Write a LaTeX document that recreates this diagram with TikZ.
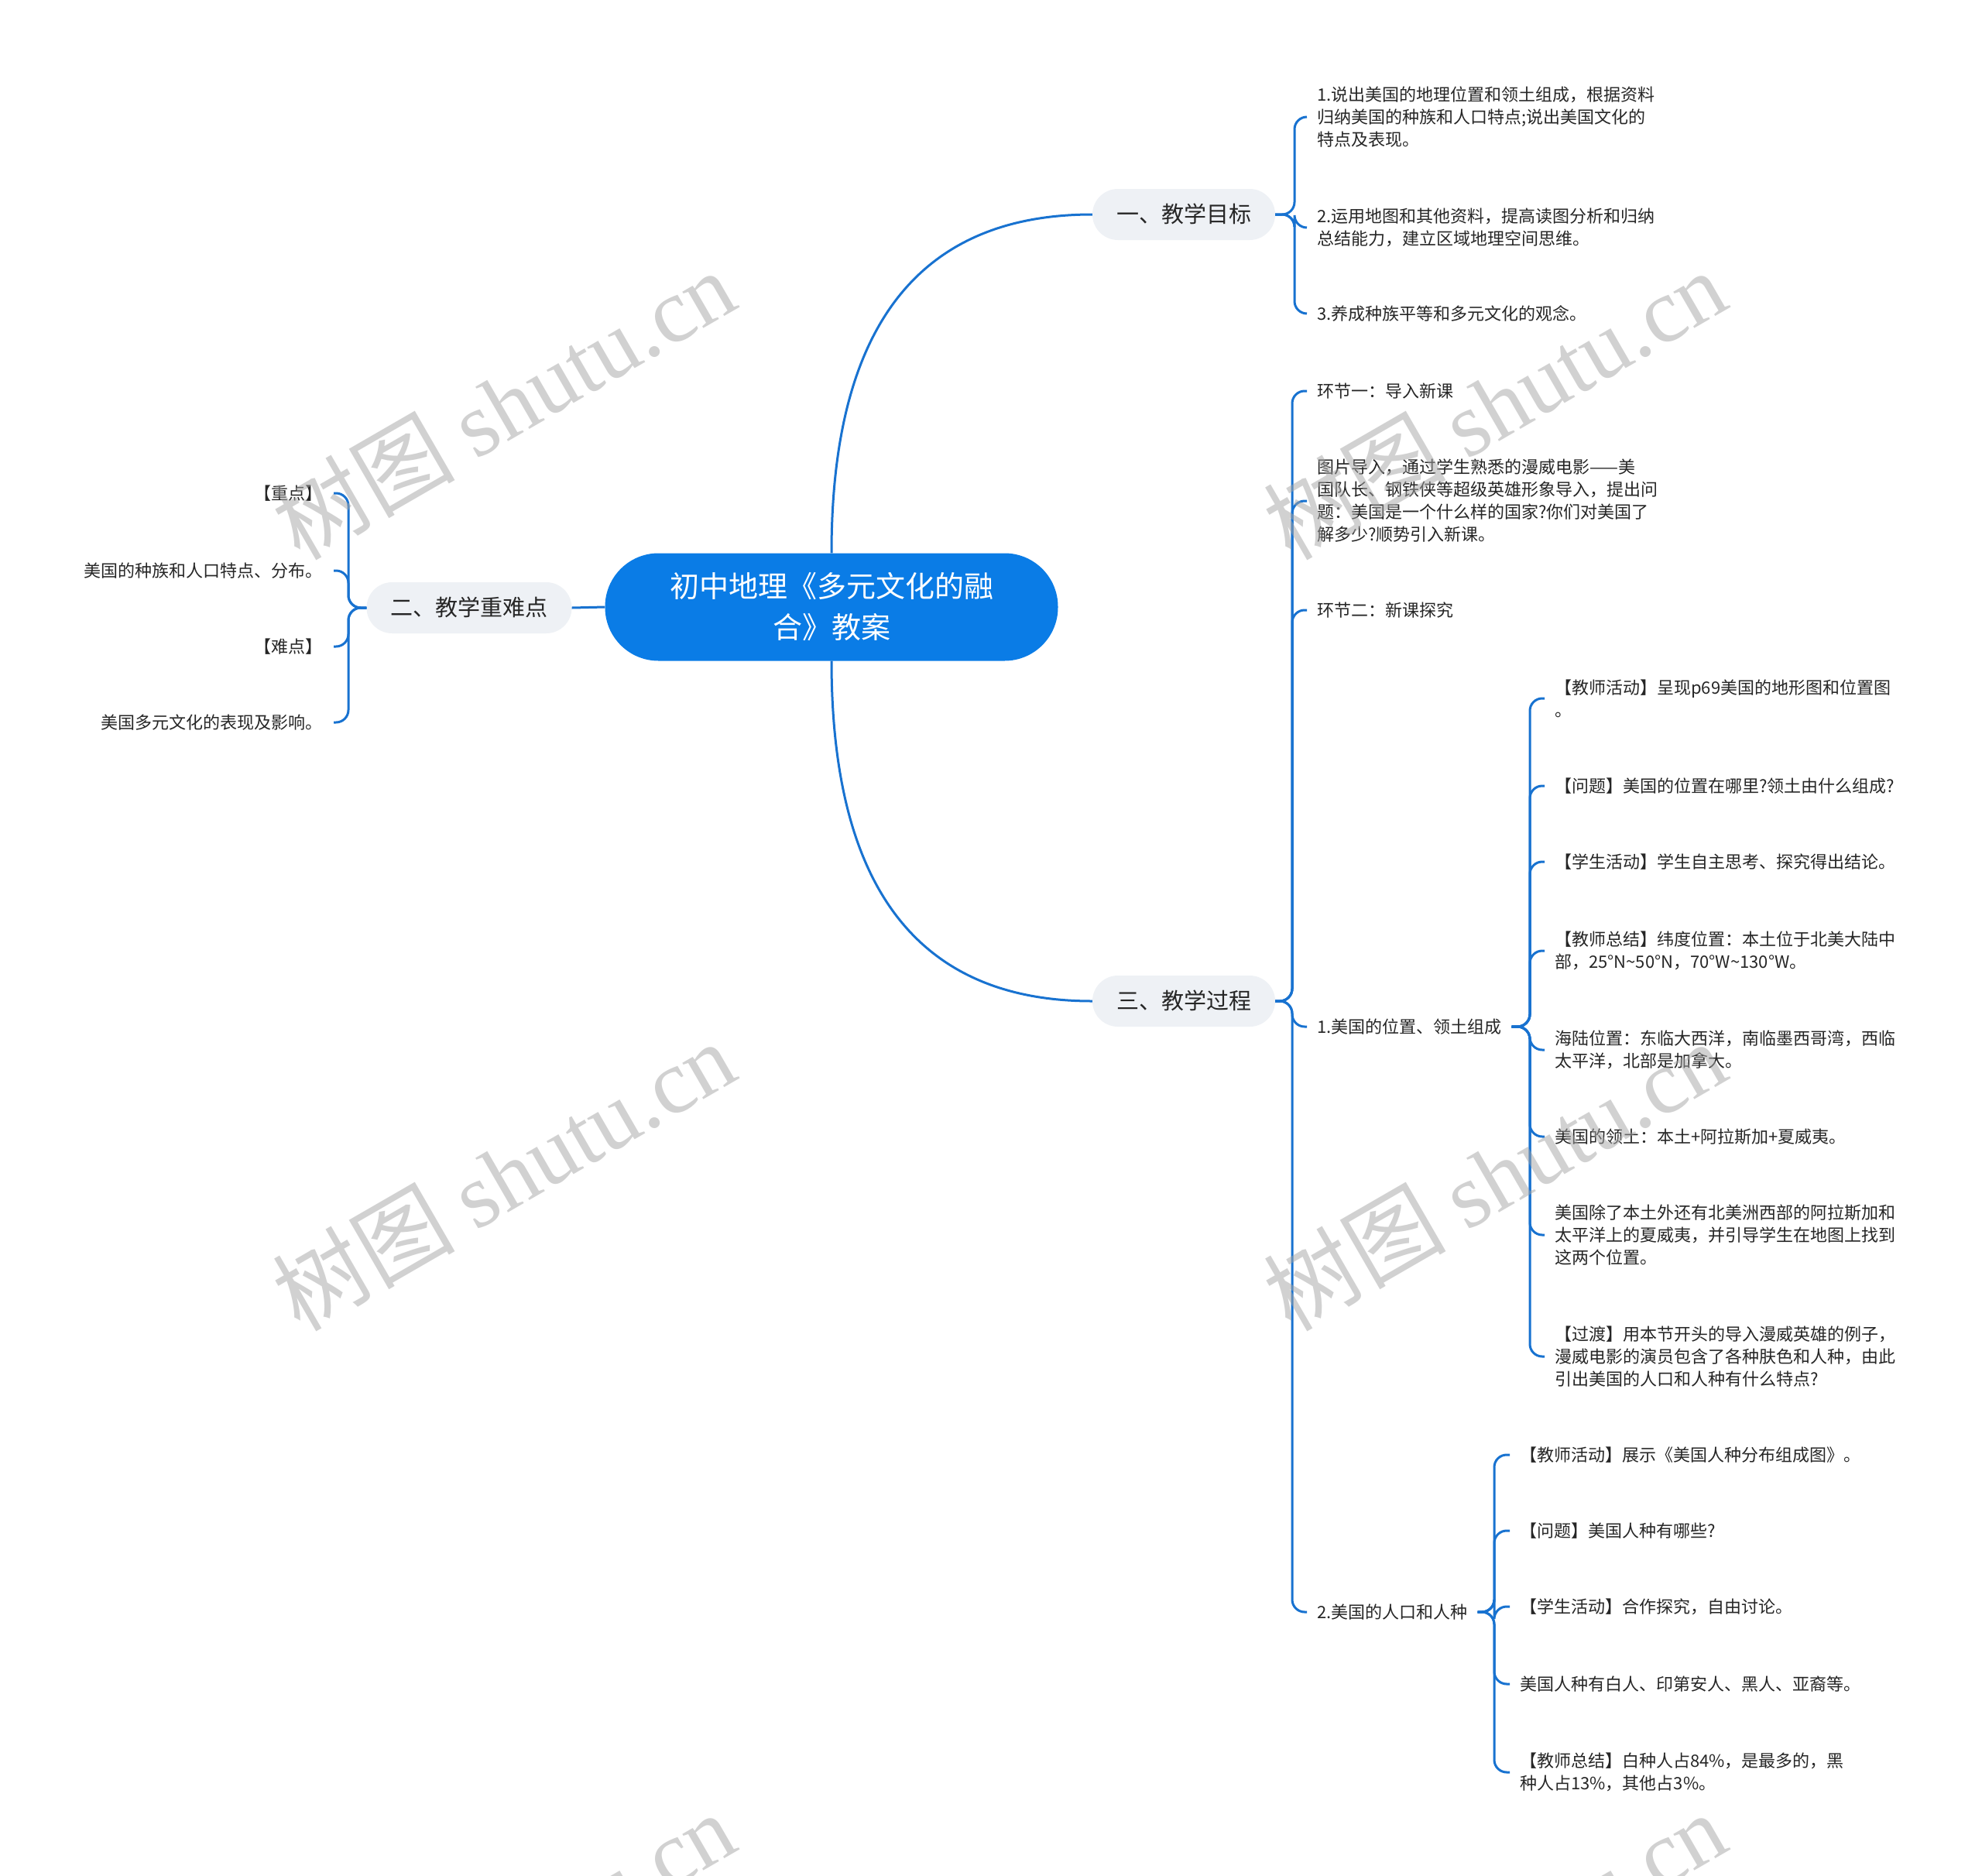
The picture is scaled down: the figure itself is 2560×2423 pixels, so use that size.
\documentclass[tikz,border=0pt]{standalone}
\usepackage{fontspec}
\setmainfont{Noto Sans CJK SC}
\newfontfamily\wmlatin{Liberation Serif}
\usetikzlibrary{calc}
\definecolor{rootblue}{HTML}{0A7CE6}
\definecolor{lineblue}{HTML}{1872D0}
\definecolor{pillgray}{HTML}{EEF1F5}
\definecolor{txt}{HTML}{262626}
\definecolor{wmgray}{HTML}{A4A4A4}
\begin{document}
\begin{tikzpicture}[x=1pt,y=-1pt,
  rootnode/.style={fill=rootblue, text=white, rounded corners=69pt, minimum width=585pt, minimum height=139pt, align=center, inner sep=0pt, font=\fontsize{38pt}{53pt}\selectfont},
  pill/.style={fill=pillgray, text=txt, rounded corners=33pt, minimum height=66pt, inner xsep=31pt, inner ysep=0pt, text height=25pt, text depth=4pt, font=\fontsize{29pt}{36pt}\selectfont},
  leafr/.style={anchor=west, text=txt, align=left, inner xsep=13pt, inner ysep=0pt, font=\fontsize{22pt}{29pt}\selectfont},
  leafl/.style={anchor=east, text=txt, align=right, inner xsep=14pt, inner ysep=0pt, font=\fontsize{22pt}{29pt}\selectfont},
  conn/.style={draw=lineblue, line width=3pt, rounded corners=16pt},
  rootlink/.style={draw=lineblue, line width=3pt},
  wmark/.style={text=wmgray, text opacity=0.5, rotate=30, inner sep=0pt, font=\fontsize{118pt}{130pt}\selectfont}
]
\useasboundingbox (0,0) rectangle (2560,2423);
\fill[white] (0,0) rectangle (2560,2423);

% main nodes
\node[rootnode] (root) at (1074,784) {初中地理《多元文化的融\\合》教案};
\node[pill] (A) at (1529,277) {一、教学目标};
\node[pill] (B) at (606,785) {二、教学重难点};
\node[pill] (C) at (1529,1293) {三、教学过程};

% spine x positions
\coordinate (sA) at (1672,0);
\coordinate (sB) at (450,0);
\coordinate (sC) at (1669,0);
\coordinate (sD) at (1976,0);
\coordinate (sE) at (1930,0);

% 一、教学目标
\node[leafr] (a1) at (1688,151) {1.说出美国的地理位置和领土组成，根据资料\\归纳美国的种族和人口特点;说出美国文化的\\特点及表现。};
\node[leafr] (a2) at (1688,294) {2.运用地图和其他资料，提高读图分析和归纳\\总结能力，建立区域地理空间思维。};
\node[leafr] (a3) at (1688,405) {3.养成种族平等和多元文化的观念。};

% 二、教学重难点
\node[leafl] (b1) at (431,637) {【重点】};
\node[leafl] (b2) at (431,737) {美国的种族和人口特点、分布。};
\node[leafl] (b3) at (431,835) {【难点】};
\node[leafl] (b4) at (431,933) {美国多元文化的表现及影响。};

% 三、教学过程
\node[leafr] (c1) at (1688,505) {环节一：导入新课};
\node[leafr] (c2) at (1688,647) {图片导入，通过学生熟悉的漫威电影——美\\国队长、钢铁侠等超级英雄形象导入，提出问\\题：美国是一个什么样的国家?你们对美国了\\解多少?顺势引入新课。};
\node[leafr] (c3) at (1688,788) {环节二：新课探究};
\node[leafr] (c4) at (1688,1326) {1.美国的位置、领土组成};
\node[leafr] (c5) at (1688,2082) {2.美国的人口和人种};

% 1.美国的位置、领土组成
\node[leafr] (d1) at (1995,902) {【教师活动】呈现p69美国的地形图和位置图\\。};
\node[leafr] (d2) at (1995,1015) {【问题】美国的位置在哪里?领土由什么组成?};
\node[leafr] (d3) at (1995,1113) {【学生活动】学生自主思考、探究得出结论。};
\node[leafr] (d4) at (1995,1228) {【教师总结】纬度位置：本土位于北美大陆中\\部，25°N\textasciitilde 50°N，70°W\textasciitilde 130°W。};
\node[leafr] (d5) at (1995,1356) {海陆位置：东临大西洋，南临墨西哥湾，西临\\太平洋，北部是加拿大。};
\node[leafr] (d6) at (1995,1468) {美国的领土：本土+阿拉斯加+夏威夷。};
\node[leafr] (d7) at (1995,1595) {美国除了本土外还有北美洲西部的阿拉斯加和\\太平洋上的夏威夷，并引导学生在地图上找到\\这两个位置。};
\node[leafr] (d8) at (1995,1752) {【过渡】用本节开头的导入漫威英雄的例子，\\漫威电影的演员包含了各种肤色和人种，由此\\引出美国的人口和人种有什么特点?};

% 2.美国的人口和人种
\node[leafr] (e1) at (1950,1879) {【教师活动】展示《美国人种分布组成图》。};
\node[leafr] (e2) at (1950,1977) {【问题】美国人种有哪些?};
\node[leafr] (e3) at (1950,2075) {【学生活动】合作探究，自由讨论。};
\node[leafr] (e4) at (1950,2175) {美国人种有白人、印第安人、黑人、亚裔等。};
\node[leafr] (e5) at (1950,2289) {【教师总结】白种人占84\%，是最多的，黑\\种人占13\%，其他占3\%。};

% root connectors
\draw[rootlink] (root.north) .. controls ($(root.north)!0.667!(root.north |- A.west)$) and ($(A.west)!0.667!(root.north |- A.west)$) .. (A.west);
\draw[rootlink] (root.south) .. controls ($(root.south)!0.667!(root.south |- C.west)$) and ($(C.west)!0.667!(root.south |- C.west)$) .. (C.west);
\draw[rootlink] (root.west) -- (B.east);

% brace connectors
\foreach \n in {a1,a2,a3} \draw[conn] (A.east) -- (A.east -| sA) |- (\n.west);
\foreach \n in {b1,b2,b3,b4} \draw[conn] (B.west) -- (B.west -| sB) |- (\n.east);
\foreach \n in {c1,c2,c3,c4,c5} \draw[conn] (C.east) -- (C.east -| sC) |- (\n.west);
\foreach \n in {d1,d2,d3,d4,d5,d6,d7,d8} \draw[conn] (c4.east) -- (c4.east -| sD) |- (\n.west);
\foreach \n in {e1,e2,e3,e4,e5} \draw[conn] (c5.east) -- (c5.east -| sE) |- (\n.west);

% watermarks
\begin{scope}
\clip (0,0) rectangle (2560,2423);
\node[wmark] (wa) at (650,522) {树图 {\wmlatin shutu.cn}};
\node[wmark] (wb) at (1930,522) {树图 {\wmlatin shutu.cn}};
\node[wmark] (wc) at (650,1518) {树图 {\wmlatin shutu.cn}};
\node[wmark] (wd) at (1930,1518) {树图 {\wmlatin shutu.cn}};
\node[wmark] (we) at (650,2514) {树图 {\wmlatin shutu.cn}};
\node[wmark] (wf) at (1930,2514) {树图 {\wmlatin shutu.cn}};
\end{scope}
\end{tikzpicture}
\end{document}
